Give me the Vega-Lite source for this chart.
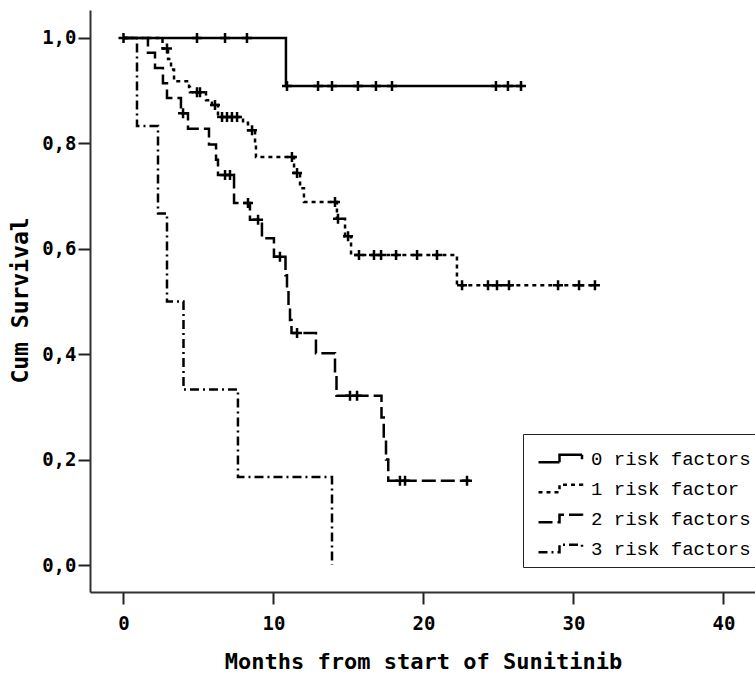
{
  "$schema": "https://vega.github.io/schema/vega-lite/v6.json",
  "width": 680,
  "height": 582,
  "autosize": {"type": "none"},
  "padding": {"left": 90, "top": 10, "right": 0, "bottom": 84},
  "background": "white",
  "config": {
    "view": {"stroke": null},
    "axis": {
      "grid": false,
      "domainColor": "#333333",
      "domainWidth": 2,
      "tickColor": "#222222",
      "tickWidth": 2,
      "tickSize": 12,
      "labelFont": "DejaVu Sans Mono",
      "labelFontSize": 19,
      "labelFontWeight": "bold",
      "labelColor": "black",
      "titleFont": "DejaVu Sans Mono",
      "titleFontSize": 22,
      "titleFontWeight": "bold",
      "titleColor": "black"
    }
  },
  "datasets": {
    "curves": [
      {"group": "0 risk factors", "t": 0, "s": 1},
      {"group": "0 risk factors", "t": 10.83, "s": 0.909},
      {"group": "0 risk factors", "t": 26.6, "s": 0.909},

      {"group": "1 risk factor", "t": 0, "s": 1},
      {"group": "1 risk factor", "t": 2.6, "s": 0.98},
      {"group": "1 risk factor", "t": 2.97, "s": 0.96},
      {"group": "1 risk factor", "t": 3.17, "s": 0.94},
      {"group": "1 risk factor", "t": 3.37, "s": 0.918},
      {"group": "1 risk factor", "t": 4.37, "s": 0.907},
      {"group": "1 risk factor", "t": 4.43, "s": 0.897},
      {"group": "1 risk factor", "t": 5.5, "s": 0.882},
      {"group": "1 risk factor", "t": 5.9, "s": 0.873},
      {"group": "1 risk factor", "t": 6.3, "s": 0.85},
      {"group": "1 risk factor", "t": 7.97, "s": 0.839},
      {"group": "1 risk factor", "t": 8.3, "s": 0.825},
      {"group": "1 risk factor", "t": 8.77, "s": 0.8},
      {"group": "1 risk factor", "t": 8.83, "s": 0.774},
      {"group": "1 risk factor", "t": 11.37, "s": 0.744},
      {"group": "1 risk factor", "t": 11.77, "s": 0.715},
      {"group": "1 risk factor", "t": 12.03, "s": 0.689},
      {"group": "1 risk factor", "t": 14.23, "s": 0.657},
      {"group": "1 risk factor", "t": 14.77, "s": 0.624},
      {"group": "1 risk factor", "t": 15.17, "s": 0.588},
      {"group": "1 risk factor", "t": 22.23, "s": 0.531},
      {"group": "1 risk factor", "t": 31.5, "s": 0.531},

      {"group": "2 risk factors", "t": 0, "s": 1},
      {"group": "2 risk factors", "t": 1.63, "s": 0.972},
      {"group": "2 risk factors", "t": 2.1, "s": 0.943},
      {"group": "2 risk factors", "t": 2.63, "s": 0.914},
      {"group": "2 risk factors", "t": 2.9, "s": 0.886},
      {"group": "2 risk factors", "t": 3.83, "s": 0.857},
      {"group": "2 risk factors", "t": 4.3, "s": 0.828},
      {"group": "2 risk factors", "t": 5.7, "s": 0.798},
      {"group": "2 risk factors", "t": 6.17, "s": 0.769},
      {"group": "2 risk factors", "t": 6.3, "s": 0.74},
      {"group": "2 risk factors", "t": 7.37, "s": 0.687},
      {"group": "2 risk factors", "t": 8.43, "s": 0.655},
      {"group": "2 risk factors", "t": 9.23, "s": 0.62},
      {"group": "2 risk factors", "t": 10.03, "s": 0.585},
      {"group": "2 risk factors", "t": 10.8, "s": 0.55},
      {"group": "2 risk factors", "t": 10.9, "s": 0.52},
      {"group": "2 risk factors", "t": 11.0, "s": 0.49},
      {"group": "2 risk factors", "t": 11.1, "s": 0.465},
      {"group": "2 risk factors", "t": 11.2, "s": 0.44},
      {"group": "2 risk factors", "t": 12.83, "s": 0.402},
      {"group": "2 risk factors", "t": 14.1, "s": 0.36},
      {"group": "2 risk factors", "t": 14.2, "s": 0.321},
      {"group": "2 risk factors", "t": 17.2, "s": 0.28},
      {"group": "2 risk factors", "t": 17.35, "s": 0.24},
      {"group": "2 risk factors", "t": 17.5, "s": 0.2},
      {"group": "2 risk factors", "t": 17.65, "s": 0.16},
      {"group": "2 risk factors", "t": 23.1, "s": 0.16},

      {"group": "3 risk factors", "t": 0, "s": 1},
      {"group": "3 risk factors", "t": 0.9, "s": 0.833},
      {"group": "3 risk factors", "t": 2.3, "s": 0.667},
      {"group": "3 risk factors", "t": 2.9, "s": 0.5},
      {"group": "3 risk factors", "t": 4.0, "s": 0.333},
      {"group": "3 risk factors", "t": 7.63, "s": 0.167},
      {"group": "3 risk factors", "t": 13.9, "s": 0}
    ],
    "censors": [
      {"group": "0 risk factors", "t": 0, "s": 1},
      {"group": "0 risk factors", "t": 4.9, "s": 1},
      {"group": "0 risk factors", "t": 6.77, "s": 1},
      {"group": "0 risk factors", "t": 8.23, "s": 1},
      {"group": "0 risk factors", "t": 10.9, "s": 0.909},
      {"group": "0 risk factors", "t": 12.97, "s": 0.909},
      {"group": "0 risk factors", "t": 13.9, "s": 0.909},
      {"group": "0 risk factors", "t": 15.63, "s": 0.909},
      {"group": "0 risk factors", "t": 16.83, "s": 0.909},
      {"group": "0 risk factors", "t": 17.9, "s": 0.909},
      {"group": "0 risk factors", "t": 24.83, "s": 0.909},
      {"group": "0 risk factors", "t": 25.63, "s": 0.909},
      {"group": "0 risk factors", "t": 26.5, "s": 0.909},

      {"group": "1 risk factor", "t": 2.9, "s": 0.98},
      {"group": "1 risk factor", "t": 4.9, "s": 0.897},
      {"group": "1 risk factor", "t": 5.1, "s": 0.897},
      {"group": "1 risk factor", "t": 6.1, "s": 0.873},
      {"group": "1 risk factor", "t": 6.57, "s": 0.85},
      {"group": "1 risk factor", "t": 6.9, "s": 0.85},
      {"group": "1 risk factor", "t": 7.23, "s": 0.85},
      {"group": "1 risk factor", "t": 7.57, "s": 0.85},
      {"group": "1 risk factor", "t": 8.57, "s": 0.825},
      {"group": "1 risk factor", "t": 11.23, "s": 0.774},
      {"group": "1 risk factor", "t": 11.57, "s": 0.744},
      {"group": "1 risk factor", "t": 14.1, "s": 0.689},
      {"group": "1 risk factor", "t": 14.3, "s": 0.657},
      {"group": "1 risk factor", "t": 14.97, "s": 0.624},
      {"group": "1 risk factor", "t": 15.7, "s": 0.588},
      {"group": "1 risk factor", "t": 16.7, "s": 0.588},
      {"group": "1 risk factor", "t": 17.17, "s": 0.588},
      {"group": "1 risk factor", "t": 18.17, "s": 0.588},
      {"group": "1 risk factor", "t": 19.57, "s": 0.588},
      {"group": "1 risk factor", "t": 20.9, "s": 0.588},
      {"group": "1 risk factor", "t": 22.57, "s": 0.531},
      {"group": "1 risk factor", "t": 24.3, "s": 0.531},
      {"group": "1 risk factor", "t": 24.9, "s": 0.531},
      {"group": "1 risk factor", "t": 25.7, "s": 0.531},
      {"group": "1 risk factor", "t": 28.97, "s": 0.531},
      {"group": "1 risk factor", "t": 30.37, "s": 0.531},
      {"group": "1 risk factor", "t": 31.43, "s": 0.531},

      {"group": "2 risk factors", "t": 3.97, "s": 0.857},
      {"group": "2 risk factors", "t": 6.77, "s": 0.74},
      {"group": "2 risk factors", "t": 7.1, "s": 0.74},
      {"group": "2 risk factors", "t": 8.3, "s": 0.687},
      {"group": "2 risk factors", "t": 8.97, "s": 0.655},
      {"group": "2 risk factors", "t": 10.43, "s": 0.585},
      {"group": "2 risk factors", "t": 11.57, "s": 0.44},
      {"group": "2 risk factors", "t": 15.1, "s": 0.321},
      {"group": "2 risk factors", "t": 15.57, "s": 0.321},
      {"group": "2 risk factors", "t": 18.43, "s": 0.16},
      {"group": "2 risk factors", "t": 18.77, "s": 0.16},
      {"group": "2 risk factors", "t": 22.9, "s": 0.16}
    ]
  },
  "layer": [
    {
      "data": {"name": "curves"},
      "mark": {"type": "line", "interpolate": "step-after", "strokeWidth": 2.5, "color": "black", "clip": true},
      "encoding": {
        "x": {
          "field": "t", "type": "quantitative",
          "scale": {"domain": [-2.233, 43.1], "nice": false, "zero": false},
          "axis": {
            "values": [0, 10, 20, 30, 40],
            "title": "Months from start of Sunitinib",
            "labelPadding": 10,
            "labelFlush": false,
            "titleX": 333,
            "titleY": 69,
            "titleAlign": "center",
            "titleBaseline": "middle"
          }
        },
        "y": {
          "field": "s", "type": "quantitative",
          "scale": {"domain": [-0.0512, 1.0531], "nice": false, "zero": false},
          "axis": {
            "values": [0, 0.2, 0.4, 0.6, 0.8, 1.0],
            "labelExpr": "replace(format(datum.value, '.1f'), '.', ',')",
            "title": "Cum Survival",
            "labelPadding": 2,
            "titleX": -70,
            "titleY": 290,
            "titleAngle": -90,
            "titleAlign": "center",
            "titleBaseline": "middle",
            "titleFontSize": 23
          }
        },
        "strokeDash": {
          "field": "group", "type": "nominal",
          "scale": {
            "domain": ["0 risk factors", "1 risk factor", "2 risk factors", "3 risk factors"],
            "range": [[1, 0], [4, 4], [14, 5], [9, 4, 2, 4]]
          },
          "legend": {
            "title": null,
            "orient": "none",
            "legendX": 433,
            "legendY": 424,
            "strokeColor": "#222222",
            "fillColor": "white",
            "padding": 8,
            "symbolType": "M-0.6,0.25H0.8V-0.25H2.3V0.05",
            "symbolSize": 900,
            "symbolStrokeWidth": 2.5,
            "symbolStrokeColor": "black",
            "symbolFillColor": "transparent",
            "labelFont": "Liberation Mono",
            "labelFontSize": 19,
            "labelColor": "black",
            "labelOffset": 27,
            "labelLimit": 400,
            "rowPadding": 3
          }
        }
      }
    },
    {
      "data": {"name": "censors"},
      "mark": {"type": "point", "shape": "M-1,0H1M0,-1V1", "size": 100, "strokeWidth": 2.5, "color": "black", "filled": false, "opacity": 1, "clip": true},
      "encoding": {
        "x": {"field": "t", "type": "quantitative"},
        "y": {"field": "s", "type": "quantitative"}
      }
    }
  ]
}
